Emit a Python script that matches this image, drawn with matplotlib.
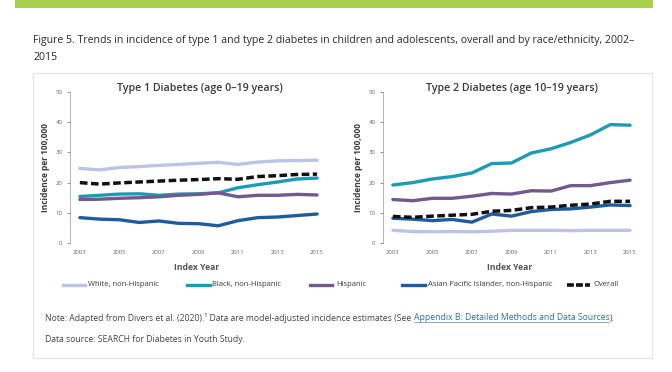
import matplotlib
matplotlib.use("Agg")
import matplotlib.pyplot as plt
from matplotlib.patches import Rectangle
from matplotlib.lines import Line2D

plt.rcParams['font.family'] = ['Open Sans', 'DejaVu Sans']

years = list(range(2003, 2016))
series_names = ["White, non-Hispanic", "Black, non-Hispanic", "Hispanic",
                "Asian Pacific Islander, non-Hispanic", "Overall"]

t1_white = [24.7, 24.2, 25.0, 25.3, 25.7, 26.0, 26.4, 26.7, 26.0, 26.8, 27.2, 27.3, 27.4]
t1_black = [15.4, 15.8, 16.2, 16.3, 15.8, 16.2, 16.3, 16.6, 18.3, 19.3, 20.2, 21.2, 21.5]
t1_hisp = [14.4, 14.5, 14.8, 15.0, 15.3, 15.8, 16.1, 16.6, 15.3, 15.8, 15.8, 16.1, 15.9]
t1_asian = [8.4, 7.9, 7.7, 6.8, 7.3, 6.5, 6.4, 5.7, 7.4, 8.4, 8.6, 9.1, 9.6]
t1_overall = [20.0, 19.5, 19.9, 20.2, 20.5, 20.8, 21.0, 21.3, 21.1, 22.0, 22.3, 22.7, 22.8]

t2_white = [4.2, 3.8, 3.7, 3.8, 3.7, 3.9, 4.2, 4.2, 4.2, 4.1, 4.2, 4.2, 4.2]
t2_black = [19.2, 20.0, 21.2, 22.0, 23.2, 26.3, 26.5, 29.8, 31.2, 33.3, 35.8, 39.2, 39.0]
t2_hisp = [14.4, 14.0, 14.8, 14.8, 15.5, 16.4, 16.2, 17.3, 17.2, 19.0, 19.0, 20.0, 20.8]
t2_asian = [8.2, 7.9, 7.4, 7.8, 6.9, 9.6, 8.9, 10.4, 11.1, 11.3, 11.9, 12.6, 12.4]
t2_overall = [8.8, 8.5, 8.9, 9.2, 9.5, 10.5, 10.8, 11.7, 11.9, 12.5, 12.9, 13.8, 13.8]

panel_titles = ["Type 1 Diabetes (age 0\u201319 years)", "Type 2 Diabetes (age 10\u201319 years)"]
xticks = [2003, 2005, 2007, 2009, 2011, 2013, 2015]
yticks = [0, 10, 20, 30, 40, 50]

colors = ["#bcc3e3", "#1b9cb4", "#715a8e", "#1f5c9e", "#111111"]

W, H = 672, 372
fig = plt.figure(figsize=(W / 100, H / 100), dpi=100)
fig.patch.set_facecolor("white")

def fx(px):
    return px / W

def fy(py):
    return 1 - py / H

# green bar at top
fig.patches.append(Rectangle((fx(15), fy(8)), fx(653) - fx(15), fy(0) - fy(8),
                             transform=fig.transFigure, facecolor="#a8d04c",
                             edgecolor="none", zorder=-2))
# box
fig.patches.append(Rectangle((fx(33), fy(358)), fx(652) - fx(33), fy(73) - fy(358),
                             transform=fig.transFigure, facecolor="white",
                             edgecolor="#e4e4e4", linewidth=0.8, zorder=-2))

fig.text(fx(33), fy(41), "Figure 5. Trends in incidence of type 1 and type 2 diabetes in children and adolescents, overall and by race/ethnicity, 2002\u2013",
         fontsize=7.6, color="#2a2a2a", va="center", ha="left")
fig.text(fx(33), fy(57), "2015", fontsize=7.6, color="#2a2a2a", va="center", ha="left")

data = [
    [t1_white, t1_black, t1_hisp, t1_asian, t1_overall],
    [t2_white, t2_black, t2_hisp, t2_asian, t2_overall],
]
axes_left = [70, 383]
title_x = [200, 512]

for i in range(2):
    ax = fig.add_axes([fx(axes_left[i]), fy(243), 253 / W, (243 - 92) / H])
    ax.patch.set_alpha(0)
    for s, (vals, c) in enumerate(zip(data[i], colors)):
        if s == 4:
            ax.plot(years, vals, color=c, lw=2.5, ls=(0, (2.2, 1.0)), solid_capstyle="butt", zorder=5)
        else:
            ax.plot(years, vals, color=c, lw=2.4, solid_capstyle="round", solid_joinstyle="round", zorder=3)
    ax.set_xlim(2002.5, 2015.3)
    ax.set_ylim(0, 50)
    ax.set_xticks(xticks)
    ax.set_yticks(yticks)
    ax.tick_params(axis="both", labelsize=4.3, colors="#666666", length=2, width=0.5)
    ax.tick_params(axis="x", length=0, pad=5)
    for sp in ["top", "right", "bottom"]:
        ax.spines[sp].set_visible(False)
    ax.spines["left"].set_color("#999999")
    ax.spines["left"].set_linewidth(0.5)
    ax.set_ylabel("Incidence per 100,000", fontsize=6, fontweight="bold", color="#3a3a3a", labelpad=4)
    ax.set_xlabel("Index Year", fontsize=6.2, fontweight="bold", color="#555555", labelpad=6)
    fig.text(fx(title_x[i]), fy(88), panel_titles[i], fontsize=7.7, fontweight="semibold",
             color="#3a3a3a", ha="center", va="center")

# legend
leg_lines = [(63, 85, 88), (187, 210, 212), (310, 332, 336), (402, 425, 428), (567, 590, 593)]
ly = fy(285)
for (x0, x1, xt), name, c, k in zip(leg_lines, series_names, colors, range(5)):
    if k == 4:
        fig.add_artist(Line2D([fx(x0), fx(x1)], [ly, ly], transform=fig.transFigure,
                              color=c, lw=2.6, ls=(0, (1.9, 0.6))))
    else:
        fig.add_artist(Line2D([fx(x0), fx(x1)], [ly, ly], transform=fig.transFigure,
                              color=c, lw=2.4))
    fig.text(fx(xt), ly, name, fontsize=5.5, color="#3a3a3a", va="center", ha="left")

FS = 6.2
t = fig.text(fx(45), fy(318), "Note: Adapted from Divers et al. (2020).\u00b9 Data are model-adjusted incidence estimates (See ",
             fontsize=FS, color="#444444", va="center", ha="left")
fig.canvas.draw()
bb = t.get_window_extent()
t2 = fig.text(bb.x1 / W, fy(318), "Appendix B: Detailed Methods and Data Sources",
              fontsize=FS, color="#2a6ea8", va="center", ha="left")
fig.canvas.draw()
bb2 = t2.get_window_extent()
fig.add_artist(Line2D([bb2.x0 / W, bb2.x1 / W], [bb2.y0 / H + 0.002, bb2.y0 / H + 0.002],
                      transform=fig.transFigure, color="#2a6ea8", lw=0.4))
fig.text(bb2.x1 / W, fy(318), ").", fontsize=FS, color="#444444", va="center", ha="left")

fig.text(fx(45), fy(340), "Data source: SEARCH for Diabetes in Youth Study.",
         fontsize=FS, color="#444444", va="center", ha="left")

fig.savefig("out.png", dpi=100)
